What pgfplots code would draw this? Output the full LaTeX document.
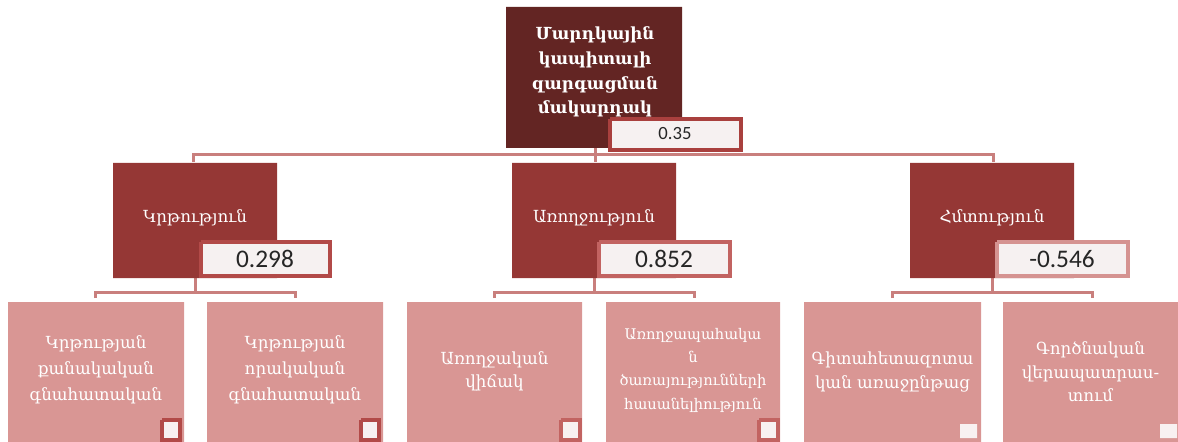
\documentclass[border=0pt]{standalone}
\usepackage{pgfplots}
\pgfplotsset{compat=1.18}
\usepackage{fontspec}
\setmainfont{DejaVu Serif}
\newfontfamily\arm{DejaVu Serif}
\newfontfamily\num{Carlito}
\definecolor{ctop}{HTML}{632523}
\definecolor{cmid}{HTML}{953735}
\definecolor{clow}{HTML}{D99694}
\definecolor{vbg}{HTML}{F6F1F1}
\definecolor{vbA}{HTML}{A9403E}
\definecolor{vbB}{HTML}{B24A48}
\definecolor{vbC}{HTML}{C26361}
\definecolor{vbD}{HTML}{D59391}
\definecolor{conn}{HTML}{C97F7D}
\definecolor{sqbg}{HTML}{F8F1F1}
\newcommand{\rect}[5]{\addplot[#5] coordinates {(#1,#2) (#3,#2) (#3,#4) (#1,#4) (#1,#2)};}
\begin{document}
\begin{tikzpicture}
\begin{axis}[
  width=883.5pt, height=331.5pt, scale only axis,
  xmin=0, xmax=1178, ymin=0, ymax=442, y dir=reverse,
  hide axis, clip=false, no markers,
  every axis plot/.append style={line join=miter},
]
% invisible frame to fix the bounding box
\addplot[draw=none] coordinates {(0,0) (1178,442)};
% connectors
\addplot[conn, line width=2.25pt] coordinates {(595,148) (595,162)};
\addplot[conn, line width=2.25pt] coordinates {(193,162) (193,155) (993,155) (993,162)};
\addplot[conn, line width=2.25pt] coordinates {(195,278) (195,292)};
\addplot[conn, line width=2.25pt] coordinates {(95,298) (95,292) (295,292) (295,298)};
\addplot[conn, line width=2.25pt] coordinates {(594,278) (594,292)};
\addplot[conn, line width=2.25pt] coordinates {(494,298) (494,292) (694,292) (694,298)};
\addplot[conn, line width=2.25pt] coordinates {(992,278) (992,292)};
\addplot[conn, line width=2.25pt] coordinates {(892,298) (892,292) (1092,292) (1092,298)};
% top box
\rect{506}{7}{682}{148}{fill=ctop, draw=none}
\rect{610}{119}{741}{150}{fill=vbg, draw=vbA, line width=3pt}
% level 2
\rect{113}{163}{277}{278}{fill=cmid, draw=none}
\rect{512}{163}{676}{278}{fill=cmid, draw=none}
\rect{910}{163}{1074}{278}{fill=cmid, draw=none}
\rect{201}{242}{330}{276}{fill=vbg, draw=vbB, line width=3pt}
\rect{599}{242}{730}{276}{fill=vbg, draw=vbC, line width=3pt}
\rect{997}{242}{1128}{276}{fill=vbg, draw=vbD, line width=3pt}
% level 3
\rect{8}{302}{184}{442}{fill=clow, draw=none}
\rect{207}{302}{383}{442}{fill=clow, draw=none}
\rect{407}{302}{582}{442}{fill=clow, draw=none}
\rect{606}{302}{780}{442}{fill=clow, draw=none}
\rect{804}{302}{981}{442}{fill=clow, draw=none}
\rect{1003}{302}{1178}{442}{fill=clow, draw=none}
% small squares
\rect{162}{420}{180}{440}{fill=sqbg, draw=vbB, line width=2.5pt}
\rect{361}{420}{379}{440}{fill=sqbg, draw=vbB, line width=2.5pt}
\rect{561}{420}{580}{440}{fill=sqbg, draw=vbC, line width=2.5pt}
\rect{759}{420}{778}{440}{fill=sqbg, draw=vbC, line width=2.5pt}
\rect{960}{424}{977}{438}{fill=sqbg, draw=none}
\rect{1160}{424}{1177}{438}{fill=sqbg, draw=none}
% texts
\node[white, align=center, font={\arm\bfseries\fontsize{12.5}{18.5}\selectfont}] at (595,72) {Մարդկային\\կապիտալի\\զարգացման\\մակարդակ};
\node[font={\num\fontsize{14}{16}\selectfont}, text=black!85] at (675,134) {0.35};
\node[white, font={\arm\fontsize{12.5}{14}\selectfont}] at (195,218) {Կրթություն};
\node[white, font={\arm\fontsize{12.5}{14}\selectfont}] at (594,218) {Առողջություն};
\node[white, font={\arm\fontsize{12.5}{14}\selectfont}] at (992,218) {Հմտություն};
\node[font={\num\fontsize{19}{21}\selectfont}, text=black!85] at (265,259) {0.298};
\node[font={\num\fontsize{19}{21}\selectfont}, text=black!85] at (664,259) {0.852};
\node[font={\num\fontsize{19}{21}\selectfont}, text=black!85] at (1062,259) {-0.546};
\node[white, align=center, font={\arm\fontsize{12.5}{19.5}\selectfont}] at (96,370) {Կրթության\\քանակական\\գնահատական};
\node[white, align=center, font={\arm\fontsize{12.5}{19.5}\selectfont}] at (295,370) {Կրթության\\որակական\\գնահատական};
\node[white, align=center, font={\arm\fontsize{12.5}{17.5}\selectfont}] at (494.5,371) {Առողջական\\վիճակ};
\node[white, align=center, font={\arm\fontsize{11}{17.5}\selectfont}] at (693,370) {Առողջապահակա\\ն\\ծառայությունների\\հասանելիություն};
\node[white, align=center, font={\arm\fontsize{12.5}{18.5}\selectfont}] at (892.5,372) {Գիտահետազոտա\\կան առաջընթաց};
\node[white, align=center, font={\arm\fontsize{12.5}{17.5}\selectfont}] at (1090.5,372) {Գործնական\\վերապատրաս-\\տում};
\end{axis}
\end{tikzpicture}
\end{document}
